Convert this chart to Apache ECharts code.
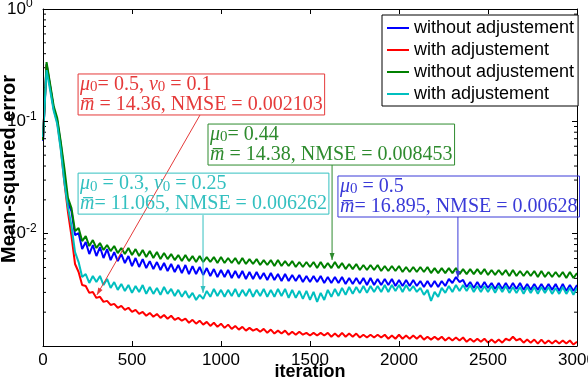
<!DOCTYPE html>
<html><head><meta charset="utf-8">
<script src="https://cdn.jsdelivr.net/npm/echarts@6/dist/echarts.min.js"></script>
<style>html,body{margin:0;padding:0;background:#fff}#c{width:588px;height:385px}</style>
</head><body><div id="c"></div>
<script>
// sampling step of the curves (iterations)
const iterationStep = 20;

const blueMSE = [
0.067,0.324,0.206,0.131,0.101,0.0628,0.0339,0.0187,0.0159,0.00972,0.01012,
0.00729,0.00842,0.00658,0.00792,0.00632,0.00760,0.00607,0.00729,0.00582,0.00686,
0.00570,0.00658,0.00548,0.00632,0.00515,0.00607,0.00505,0.00594,0.00494,0.00570,
0.00484,0.00559,0.00475,0.00548,0.00465,0.00537,0.00456,0.00526,0.00446,0.00526,
0.00437,0.00515,0.00437,0.00505,0.00429,0.00494,0.00420,0.00484,0.00411,0.00475,
0.00411,0.00475,0.00403,0.00465,0.00403,0.00465,0.00395,0.00456,0.00395,0.00456,
0.00395,0.00446,0.00387,0.00446,0.00387,0.00437,0.00379,0.00437,0.00379,0.00429,
0.00379,0.00429,0.00371,0.00420,0.00371,0.00420,0.00371,0.00420,0.00364,0.00411,
0.00364,0.00411,0.00364,0.00411,0.00357,0.00403,0.00357,0.00403,0.00357,0.00403,
0.00349,0.00403,0.00349,0.00395,0.00349,0.00395,0.00349,0.00395,0.00342,0.00387,
0.00342,0.00387,0.00342,0.00387,0.00342,0.00379,0.00335,0.00379,0.00335,0.00379,
0.00335,0.00379,0.00342,0.00395,0.00364,0.00411,0.00371,0.00387,0.00335,0.00371,
0.00329,0.00371,0.00329,0.00371,0.00329,0.00364,0.00322,0.00364,0.00322,0.00364,
0.00322,0.00364,0.00322,0.00364,0.00316,0.00357,0.00316,0.00357,0.00316,0.00357,
0.00316,0.00357,0.00316,0.00357,0.00309,0.00357,0.00309,0.00349,0.00309,0.00349
];
const redMSE = [
0.0710,0.317,0.202,0.129,0.0986,0.0578,0.0288,0.0156,0.00952,0.00537,0.00456,
0.00349,0.00342,0.00297,0.00303,0.00268,0.00274,0.00247,0.00252,0.00232,0.00237,
0.00219,0.00228,0.00210,0.00219,0.00201,0.00210,0.00193,0.00201,0.00186,0.00197,
0.00182,0.00193,0.00178,0.00189,0.00175,0.00186,0.00171,0.00178,0.00168,0.00175,
0.00161,0.00171,0.00158,0.00168,0.00155,0.00164,0.00151,0.00161,0.00148,0.00158,
0.00145,0.00155,0.00142,0.00151,0.00140,0.00148,0.00137,0.00145,0.00137,0.00142,
0.00134,0.00142,0.00131,0.00140,0.00129,0.00137,0.00129,0.00137,0.00126,0.00134,
0.00126,0.00134,0.00126,0.00131,0.00124,0.00131,0.00124,0.00131,0.00124,0.00131,
0.00121,0.00129,0.00121,0.00131,0.00121,0.00129,0.00121,0.00129,0.00119,0.00126,
0.00119,0.00126,0.00119,0.00126,0.00119,0.00126,0.00116,0.00124,0.00116,0.00126,
0.00116,0.00124,0.00116,0.00124,0.00116,0.00124,0.00114,0.00121,0.00114,0.00121,
0.00114,0.00121,0.00112,0.00119,0.00112,0.00119,0.00112,0.00119,0.00109,0.00116,
0.00109,0.00116,0.00109,0.00116,0.00107,0.00114,0.00107,0.00114,0.00107,0.00116,
0.00112,0.00121,0.00112,0.00116,0.00107,0.00114,0.00107,0.00114,0.00105,0.00114,
0.00105,0.00112,0.00105,0.00112,0.00105,0.00112,0.00105,0.00112,0.00103,0.00109
];
const greenMSE = [
0.0682,0.337,0.215,0.137,0.107,0.0654,0.0384,0.0208,0.0169,0.01055,0.0112,
0.00859,0.00952,0.00776,0.00877,0.00745,0.00825,0.00715,0.00792,0.00700,0.00776,
0.00672,0.00745,0.00658,0.00745,0.00645,0.00729,0.00632,0.00715,0.00619,0.00700,
0.00607,0.00686,0.00594,0.00672,0.00594,0.00658,0.00582,0.00645,0.00570,0.00645,
0.00570,0.00632,0.00559,0.00632,0.00559,0.00619,0.00559,0.00619,0.00548,0.00619,
0.00548,0.00607,0.00548,0.00607,0.00537,0.00607,0.00537,0.00594,0.00537,0.00594,
0.00526,0.00582,0.00526,0.00582,0.00515,0.00582,0.00515,0.00570,0.00515,0.00570,
0.00505,0.00559,0.00505,0.00559,0.00505,0.00559,0.00494,0.00559,0.00494,0.00548,
0.00494,0.00559,0.00494,0.00548,0.00484,0.00537,0.00484,0.00537,0.00475,0.00526,
0.00475,0.00526,0.00475,0.00526,0.00465,0.00515,0.00465,0.00515,0.00465,0.00515,
0.00456,0.00505,0.00456,0.00505,0.00456,0.00505,0.00456,0.00505,0.00446,0.00494,
0.00446,0.00494,0.00446,0.00494,0.00446,0.00494,0.00437,0.00484,0.00437,0.00484,
0.00437,0.00484,0.00437,0.00484,0.00429,0.00475,0.00429,0.00475,0.00429,0.00475,
0.00420,0.00475,0.00420,0.00465,0.00420,0.00465,0.00420,0.00465,0.00411,0.00465,
0.00411,0.00456,0.00411,0.00456,0.00411,0.00456,0.00403,0.00456,0.00403,0.00446
];
const cyanMSE = [
0.0725,0.286,0.190,0.124,0.0946,0.0555,0.0288,0.0173,0.0117,0.00686,0.00559,
0.00411,0.00437,0.00364,0.00420,0.00371,0.00420,0.00349,0.00395,0.00329,0.00371,
0.00316,0.00357,0.00309,0.00349,0.00297,0.00342,0.00303,0.00349,0.00291,0.00335,
0.00291,0.00329,0.00285,0.00335,0.00291,0.00322,0.00279,0.00316,0.00274,0.00309,
0.00268,0.00297,0.00257,0.00285,0.00263,0.00309,0.00274,0.00322,0.00279,0.00316,
0.00274,0.00316,0.00279,0.00322,0.00274,0.00316,0.00279,0.00322,0.00274,0.00316,
0.00279,0.00322,0.00274,0.00316,0.00274,0.00322,0.00279,0.00322,0.00268,0.00316,
0.00268,0.00309,0.00263,0.00309,0.00257,0.00303,0.00247,0.00297,0.00257,0.00316,
0.00274,0.00322,0.00279,0.00329,0.00285,0.00335,0.00291,0.00335,0.00297,0.00342,
0.00297,0.00342,0.00303,0.00342,0.00303,0.00349,0.00303,0.00349,0.00309,0.00349,
0.00303,0.00349,0.00309,0.00342,0.00303,0.00329,0.00285,0.00316,0.00252,0.00303,
0.00274,0.00329,0.00297,0.00342,0.00303,0.00349,0.00309,0.00349,0.00309,0.00349,
0.00303,0.00342,0.00303,0.00342,0.00303,0.00342,0.00297,0.00342,0.00303,0.00342,
0.00297,0.00335,0.00297,0.00335,0.00291,0.00335,0.00297,0.00335,0.00291,0.00335,
0.00297,0.00335,0.00291,0.00329,0.00291,0.00335,0.00291,0.00329,0.00285,0.00329
];

const seriesKeys = ['blue', 'red', 'green', 'cyan'];
const seriesLabels = ['without adjustement', 'with adjustement', 'without adjustement', 'with adjustement'];
const seriesValues = [blueMSE, redMSE, greenMSE, cyanMSE];
const seriesColors = ['#0000ff', '#ff0000', '#008000', '#00bfbf'];

const xTicks = [0, 500, 1000, 1500, 2000, 2500, 3000];
const yMin = 0.001, yMax = 1;

// annotations (positions given in data coordinates: [iteration, mse])
const annotTexts = [
  '{i|μ}{s|0}{t|= 0.5, }{i|ν}{s|0}{t| = 0.1}\n{i|m\u0305}{t| = 14.36, NMSE = 0.002103}',
  '{i|μ}{s|0}{t|= 0.44}\n{i|m\u0305}{t| = 14.38, NMSE = 0.008453}',
  '{i|μ}{s|0}{t| = 0.3, }{i|ν}{s|0}{t| = 0.25}\n{i|m\u0305}{t|= 11.065, NMSE = 0.006262}',
  '{i|μ}{s|0}{t| = 0.5}\n{i|m\u0305}{t|= 16.895, NMSE = 0.00628}'
];
const annotColors = ['#e53a3a', '#2e8b2e', '#33c0c0', '#3a3ad8'];
const annotBoxAt = [[197, 0.264], [927, 0.0946], [197, 0.0346], [1657, 0.0326]];
const annotArrowFrom = [[882, 0.1138], [1624, 0.0408], [899, 0.01464], [2331, 0.01406]];
const annotArrowTo = [[303, 0.00285], [1624, 0.00582], [899, 0.00297], [2331, 0.00404]];

const SANS = '"Liberation Sans", Arial, Helvetica, sans-serif';
const SERIF = '"Liberation Serif", "Times New Roman", serif';

const chart = echarts.init(document.getElementById('c'), null, {renderer: 'canvas'});

const axisLine = {show: true, onZero: false, lineStyle: {color: '#000', width: 1}};
const axisTick = {show: true, inside: true, length: 5, lineStyle: {color: '#000', width: 1}};

const series = seriesValues.map((vals, k) => ({
  name: seriesKeys[k],
  type: 'line',
  symbol: 'none',
  showSymbol: false,
  xAxisIndex: 0, yAxisIndex: 0,
  data: vals.map((v, i) => [i * iterationStep, v]),
  lineStyle: {color: seriesColors[k], width: 2},
  itemStyle: {color: seriesColors[k]},
  z: 2 + k
}));

chart.setOption({
  animation: false,
  backgroundColor: '#fff',
  grid: {left: 43, right: 11, top: 9, bottom: 39, containLabel: false, outerBoundsMode: 'none'},
  xAxis: [
    {type: 'value', min: xTicks[0], max: xTicks[xTicks.length - 1], interval: 500, position: 'bottom', z: 8,
     axisLine, axisTick, splitLine: {show: false},
     axisLabel: {color: '#000', fontSize: 17, fontFamily: SANS, margin: 6, formatter: v => String(v),
                 alignMinLabel: 'center', alignMaxLabel: 'center'}},
    {type: 'value', min: xTicks[0], max: xTicks[xTicks.length - 1], interval: 500, position: 'top', z: 8,
     axisLine, axisTick, splitLine: {show: false}, axisLabel: {show: false}}
  ],
  yAxis: [
    {type: 'log', logBase: 10, min: yMin, max: yMax, position: 'left', z: 8,
     axisLine, axisTick, splitLine: {show: false},
     axisLabel: {
       align: 'left', margin: 36,
       formatter: v => {
         const e = Math.round(Math.log10(v));
         if (e === -3) return '';
         return '{b|10}{sup|' + e + '}';
       },
       rich: {
         b: {fontSize: 17, fontFamily: SANS, color: '#000', lineHeight: 22},
         sup: {fontSize: 12, fontFamily: SANS, color: '#000', lineHeight: 10, verticalAlign: 'top'}
       }
     }},
    {type: 'log', logBase: 10, min: yMin, max: yMax, position: 'right', z: 8,
     axisLine, axisTick, splitLine: {show: false}, axisLabel: {show: false}}
  ],
  legend: {
    orient: 'vertical', left: 382, top: 15, padding: [3, 4, 2, 5], itemGap: 2,
    itemWidth: 22, itemHeight: 2, icon: 'rect',
    backgroundColor: '#fff', borderColor: '#000', borderWidth: 1, borderRadius: 0,
    textStyle: {fontFamily: SANS, fontSize: 18, color: '#000', lineHeight: 20},
    formatter: n => seriesLabels[seriesKeys.indexOf(n)],
    data: seriesKeys, z: 20
  },
  series
});

// overlays: minor log ticks, axis names, annotations
const px = (x, y) => chart.convertToPixel({gridIndex: 0}, [x, y]);
const els = [];
const [xL, yB] = px(0, yMin);
const [xR, yT] = px(3000, yMax);
for (let d = -3; d < 0; d++) {
  for (let m = 2; m <= 9; m++) {
    const y = px(0, m * Math.pow(10, d))[1];
    els.push({type: 'line', shape: {x1: xL, y1: y, x2: xL + 3, y2: y}, style: {stroke: '#000', lineWidth: 1}, z: 1});
    els.push({type: 'line', shape: {x1: xR - 3, y1: y, x2: xR, y2: y}, style: {stroke: '#000', lineWidth: 1}, z: 1});
  }
}
els.push({type: 'text', x: (xL + xR) / 2, y: 372, z: 1,
  style: {text: 'iteration', font: 'bold 18px ' + SANS, fill: '#000', align: 'center', verticalAlign: 'middle'}});
els.push({type: 'text', x: 9, y: 169, rotation: Math.PI / 2, z: -1,
  style: {text: 'Mean-squared error', font: 'bold 20px ' + SANS, fill: '#000', align: 'center', verticalAlign: 'middle'}});

annotTexts.forEach((txt, k) => {
  const c = annotColors[k];
  const [bx, by] = px(annotBoxAt[k][0], annotBoxAt[k][1]);
  const [fx, fy] = px(annotArrowFrom[k][0], annotArrowFrom[k][1]);
  const [tx, ty] = px(annotArrowTo[k][0], annotArrowTo[k][1]);
  els.push({type: 'line', shape: {x1: fx, y1: fy, x2: tx, y2: ty}, style: {stroke: c, lineWidth: 1}, z: 10});
  const dx = tx - fx, dy = ty - fy, L = Math.hypot(dx, dy);
  const ux = dx / L, uy = dy / L, nx = -uy, ny = ux;
  const hl = 7, hw = 2.5;
  els.push({type: 'polygon', z: 10, shape: {points: [[tx, ty],
    [tx - ux * hl + nx * hw, ty - uy * hl + ny * hw], [tx - ux * hl - nx * hw, ty - uy * hl - ny * hw]]},
    style: {fill: c}});
  els.push({type: 'text', x: bx, y: by, z: 10,
    style: {
      text: txt, fill: c, align: 'left', verticalAlign: 'top',
      borderColor: c, borderWidth: 1, padding: [1, 2, 0, 2], lineHeight: 20,
      rich: {
        t: {fontFamily: SERIF, fontSize: 20, lineHeight: 20, fill: c, color: c},
        i: {fontFamily: SERIF, fontSize: 20, fontStyle: 'italic', lineHeight: 20, fill: c, color: c},
        s: {fontFamily: SERIF, fontSize: 15, lineHeight: 9, verticalAlign: 'bottom', fill: c, color: c}
      }
    }});
});
chart.setOption({graphic: {elements: els}});
</script>
</body></html>
